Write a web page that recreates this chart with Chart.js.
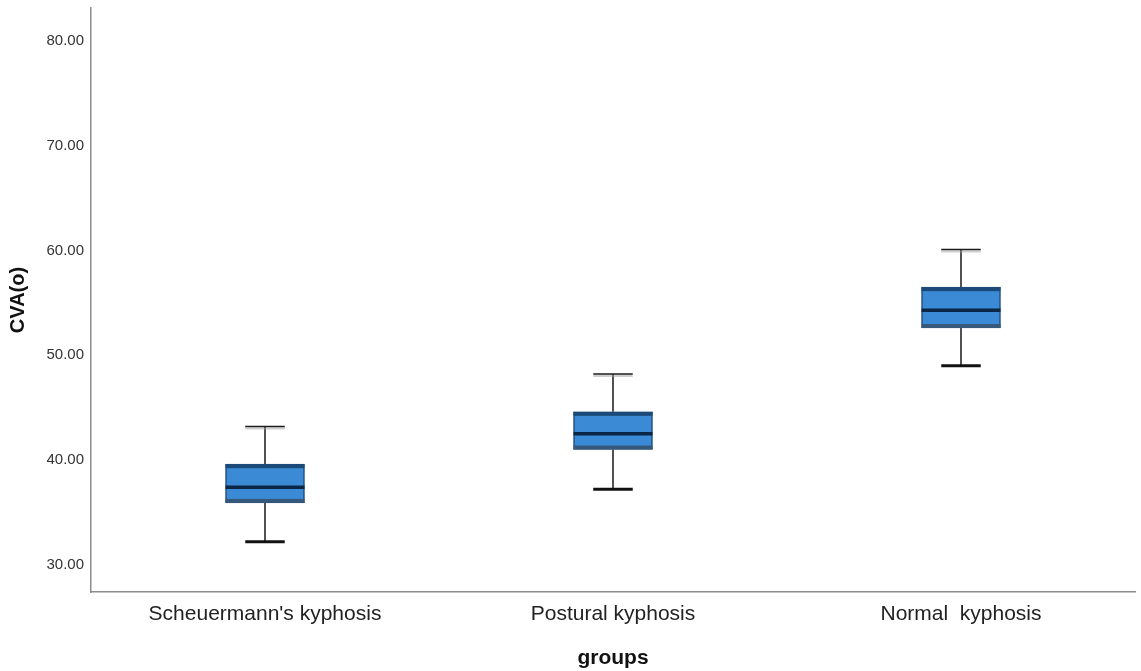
<!DOCTYPE html>
<html>
<head>
<meta charset="utf-8">
<script src="https://cdn.jsdelivr.net/npm/chart.js@4.4.1/dist/chart.umd.min.js"></script>
<style>
html,body{margin:0;padding:0;background:#fff;}
#wrap{width:1141px;height:671px;position:relative;}
</style>
</head>
<body>
<div id="wrap"><canvas id="c" width="1141" height="671"></canvas></div>
<script>
const categories = ["Scheuermann's kyphosis", "Postural kyphosis", "Normal  kyphosis"];
const whiskerMin = [32.2, 37.2, 49.0];
const q1 = [35.9, 41.0, 52.6];
const median = [37.4, 42.5, 54.3];
const q3 = [39.6, 44.6, 56.5];
const whiskerMax = [43.2, 48.2, 60.1];
const yTicks = [30, 40, 50, 60, 70, 80];

const boxPlugin = {
  id: 'boxParts',
  beforeDatasetsDraw(chart) {
    const ctx = chart.ctx;
    const y = chart.scales.y;
    const meta = chart.getDatasetMeta(0);
    ctx.save();
    meta.data.forEach((bar, i) => {
      const cx = bar.x;
      const capHalf = bar.width / 4;
      const yMax = y.getPixelForValue(whiskerMax[i]);
      const yMin = y.getPixelForValue(whiskerMin[i]);
      const yQ1 = y.getPixelForValue(q1[i]);
      const yQ3 = y.getPixelForValue(q3[i]);
      ctx.strokeStyle = '#1a1a1a';
      ctx.lineWidth = 1.5;
      ctx.beginPath();
      ctx.moveTo(cx, yMax); ctx.lineTo(cx, yQ3);
      ctx.moveTo(cx, yMin); ctx.lineTo(cx, yQ1);
      ctx.stroke();
      ctx.strokeStyle = 'rgba(160,160,160,0.5)';
      ctx.lineWidth = 2;
      ctx.beginPath();
      ctx.moveTo(cx - capHalf, yMax + 2); ctx.lineTo(cx + capHalf, yMax + 2);
      ctx.stroke();
      ctx.strokeStyle = '#1a1a1a';
      ctx.lineWidth = 1.5;
      ctx.beginPath();
      ctx.moveTo(cx - capHalf, yMax); ctx.lineTo(cx + capHalf, yMax);
      ctx.stroke();
      ctx.lineWidth = 3;
      ctx.strokeStyle = '#111';
      ctx.beginPath();
      ctx.moveTo(cx - capHalf, yMin); ctx.lineTo(cx + capHalf, yMin);
      ctx.stroke();
    });
    ctx.restore();
  },
  afterDatasetsDraw(chart) {
    const ctx = chart.ctx;
    const y = chart.scales.y;
    const meta = chart.getDatasetMeta(0);
    ctx.save();
    meta.data.forEach((bar, i) => {
      const left = bar.x - bar.width / 2;
      const right = bar.x + bar.width / 2;
      const yQ3 = y.getPixelForValue(q3[i]);
      const yQ1 = y.getPixelForValue(q1[i]);
      const yMed = y.getPixelForValue(median[i]);
      ctx.fillStyle = '#1c4a78';
      ctx.fillRect(left, yQ3, right - left, 4);
      ctx.fillStyle = '#36587a';
      ctx.fillRect(left, yQ1 - 4, right - left, 4);
      ctx.strokeStyle = '#0c2746';
      ctx.lineWidth = 3.5;
      ctx.beginPath();
      ctx.moveTo(left, yMed); ctx.lineTo(right, yMed);
      ctx.stroke();
    });
    ctx.restore();
  }
};

new Chart(document.getElementById('c'), {
  type: 'bar',
  data: {
    labels: categories,
    datasets: [{
      data: categories.map((_, i) => [q1[i], q3[i]]),
      backgroundColor: '#3a8ad6',
      borderColor: '#1f4c7a',
      borderWidth: 1.5,
      borderSkipped: false,
      barThickness: 79
    }]
  },
  options: {
    responsive: false,
    animation: false,
    layout: { padding: { left: 0, top: 8, right: 6, bottom: 0 } },
    plugins: { legend: { display: false }, tooltip: { enabled: false } },
    scales: {
      x: {
        grid: { display: false, drawTicks: false },
        border: { display: true, color: '#8c8c8c', width: 1.5 },
        ticks: { color: '#222', font: { family: 'Liberation Sans', size: 21 }, padding: 10, maxRotation: 0, autoSkip: false },
        title: { display: true, text: 'groups', color: '#111', font: { family: 'Liberation Sans', size: 21, weight: 'bold' }, padding: { top: 0, bottom: 0 } },
        afterFit(s) { s.height = 79; s.paddingLeft = 0; s.paddingRight = 0; }
      },
      y: {
        min: 27.4,
        max: 83.15,
        grid: { display: false, drawTicks: false },
        border: { display: true, color: '#8c8c8c', width: 1.5 },
        afterBuildTicks(s) { s.ticks = yTicks.map(v => ({ value: v })); },
        ticks: { color: '#333', font: { family: 'Liberation Sans', size: 15 }, padding: 7, callback: v => Number(v).toFixed(2) },
        title: { display: true, text: 'CVA(o)', color: '#111', font: { family: 'Liberation Sans', size: 20, weight: 'bold' }, padding: { top: 6, bottom: 0 } },
        afterFit(s) { s.width = 91; s.paddingTop = 0; s.paddingBottom = 0; }
      }
    }
  },
  plugins: [boxPlugin]
});
</script>
</body>
</html>
